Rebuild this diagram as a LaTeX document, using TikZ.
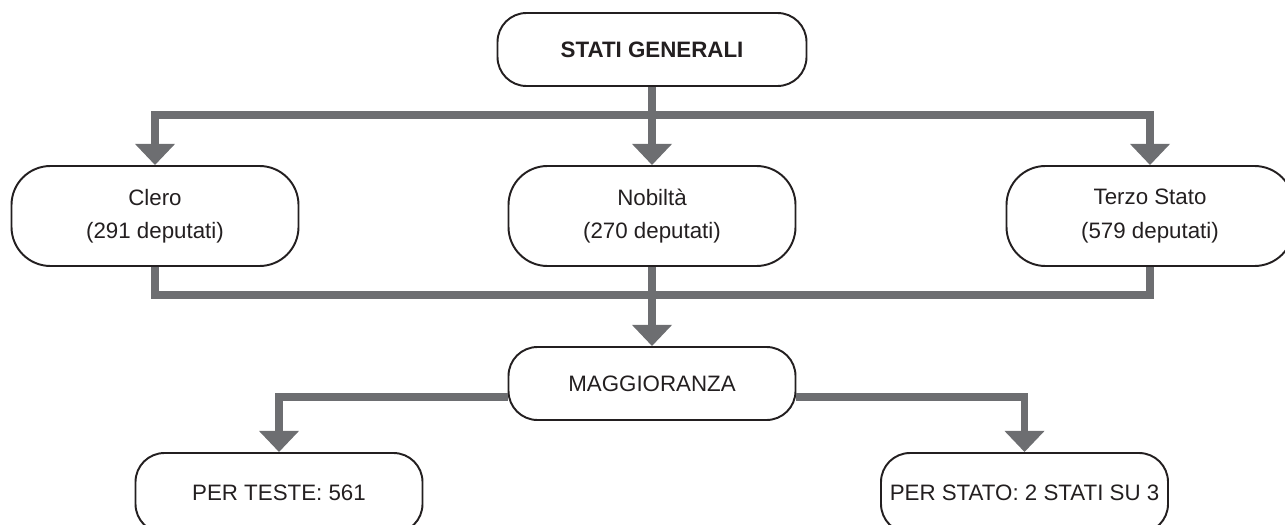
\documentclass[tikz,border=0pt]{standalone}
\usepackage{fontspec}
\setmainfont{Liberation Sans}
\usetikzlibrary{arrows.meta,positioning}
\definecolor{linkgray}{HTML}{6D6E71}
\definecolor{inkblack}{HTML}{231F20}

\begin{document}
\begin{tikzpicture}[>={Triangle[width=22pt,length=12pt]},
    box/.style={draw=inkblack, line width=1.1pt, rounded corners=0.58cm, minimum width=5.74cm, minimum height=1.46cm,
        align=center, text=inkblack, inner sep=0pt, font=\fontsize{12.7}{19}\selectfont},
    tallbox/.style={box, minimum height=2cm, rounded corners=0.78cm},
    link/.style={draw=linkgray, line width=4.2pt}]
    \useasboundingbox (0,0) rectangle (25.7,-10.48);

    \node[box, minimum width=6.18cm, font=\fontsize{12.7}{19}\selectfont\bfseries] (stati) at (13.04,-0.99) {STATI GENERALI};
    \node[tallbox] (clero) at (3.1,-4.32) {Clero\\(291 deputati)};
    \node[tallbox] (nobilta) at (13.04,-4.32) {Nobiltà\\(270 deputati)};
    \node[tallbox] (terzo) at (23.0,-4.32) {Terzo Stato\\(579 deputati)};
    \node[box] (magg) at (13.04,-7.67) {MAGGIORANZA};
    \node[box, minimum height=1.6cm] (teste) at (5.58,-9.86) {PER TESTE: 561};
    \node[box, minimum height=1.6cm] (stato) at (20.49,-9.86) {PER STATO: 2 STATI SU 3};

    \coordinate (upbar) at (0,-2.3);
    \coordinate (lowbar) at (0,-5.9);

    \draw[link, ->] (stati.south) -- (nobilta.north);
    \draw[link, ->] (stati.south |- upbar) -| (clero.north);
    \draw[link, ->] (stati.south |- upbar) -| (terzo.north);
    \draw[link] (clero.south) |- (lowbar -| terzo.south) -- (terzo.south);
    \draw[link, ->] (nobilta.south) -- (magg.north);
    \draw[link, ->] ([yshift=-0.27cm]magg.west) -| (teste.north);
    \draw[link, ->] ([yshift=-0.27cm]magg.east) -| (stato.north);
\end{tikzpicture}
\end{document}
